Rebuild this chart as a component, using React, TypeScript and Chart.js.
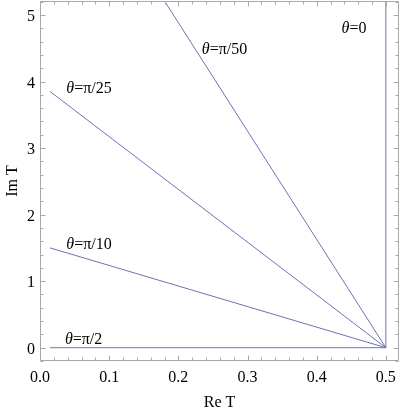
import React, { useEffect, useRef } from "react";
import { Chart, registerables } from "chart.js";
Chart.register(...registerables);

// Series (Re T, Im T) endpoints
const seriesNames = ["θ=0", "θ=π/50", "θ=π/25", "θ=π/10", "θ=π/2"];
const seriesReT = [
  [0.5, 0.5],
  [0.5, 0.18],
  [0.5, 0.0145],
  [0.5, 0.0145],
  [0.5, 0.0145],
];
const seriesImT = [
  [0, 5.21],
  [0, 5.21],
  [0, 3.85],
  [0, 1.5],
  [0, 0],
];

// Annotation labels (data coordinates of left/baseline)
const labelGreek = ["θ", "θ", "θ", "θ", "θ"];
const labelRest = ["=0", "=π/50", "=π/25", "=π/10", "=π/2"];
const labelReT = [0.436, 0.234, 0.038, 0.038, 0.036];
const labelImT = [4.73, 4.41, 3.83, 1.48, 0.056];

// Tick labels
const xTickValues = [0, 0.1, 0.2, 0.3, 0.4, 0.5];
const yTickValues = [0, 1, 2, 3, 4, 5];
const xMinorStep = 0.02;
const yMinorStep = 0.2;

const LINE = "#7070b8";
const FRAME = "#a8a8a8";
const FONT = '"Liberation Serif", "Times New Roman", Times, serif';

const framePlugin = {
  id: "framePlugin",
  afterDatasetsDraw(chart: any) {
    const ctx = chart.ctx as CanvasRenderingContext2D;
    const { left, right, top, bottom } = chart.chartArea;
    const xs = chart.scales.x;
    const ys = chart.scales.y;
    ctx.save();
    ctx.strokeStyle = FRAME;
    ctx.lineWidth = 1;
    const L = Math.round(left) + 0.5;
    const R = Math.round(right) - 0.5;
    const T = Math.round(top) + 0.5;
    const B = Math.round(bottom) - 0.5;
    ctx.beginPath();
    ctx.rect(L, T, R - L, B - T);
    ctx.stroke();

    ctx.beginPath();
    for (let i = 0; ; i++) {
      const v = i * xMinorStep;
      if (v > xs.max + 1e-9) break;
      if (v < xs.min - 1e-9) continue;
      const px = Math.round(xs.getPixelForValue(v)) + 0.5;
      const len = i % 5 === 0 ? 5 : 3;
      ctx.moveTo(px, B);
      ctx.lineTo(px, B - len);
      ctx.moveTo(px, T);
      ctx.lineTo(px, T + len);
    }
    for (let i = -5; ; i++) {
      const v = i * yMinorStep;
      if (v > ys.max + 1e-9) break;
      if (v < ys.min - 1e-9) continue;
      const py = Math.round(ys.getPixelForValue(v)) + 0.5;
      const len = ((i % 5) + 5) % 5 === 0 ? 5 : 3;
      ctx.moveTo(L, py);
      ctx.lineTo(L + len, py);
      ctx.moveTo(R, py);
      ctx.lineTo(R - len, py);
    }
    ctx.stroke();

    ctx.fillStyle = "#000";
    ctx.font = `16px ${FONT}`;
    ctx.textAlign = "center";
    ctx.textBaseline = "alphabetic";
    xTickValues.forEach((v) => {
      ctx.fillText(v.toFixed(1), xs.getPixelForValue(v), 382);
    });
    ctx.textAlign = "right";
    yTickValues.forEach((v) => {
      ctx.fillText(String(v), 35, ys.getPixelForValue(v) + 6);
    });

    ctx.textAlign = "center";
    ctx.fillText("Re T", (left + right) / 2, 407);
    ctx.save();
    ctx.translate(17, (top + bottom) / 2);
    ctx.rotate(-Math.PI / 2);
    ctx.fillText("Im T", 0, 0);
    ctx.restore();

    ctx.textAlign = "left";
    labelRest.forEach((rest, i) => {
      const px = xs.getPixelForValue(labelReT[i]);
      const py = ys.getPixelForValue(labelImT[i]);
      ctx.font = `italic 16px ${FONT}`;
      ctx.fillText(labelGreek[i], px, py);
      const w = ctx.measureText(labelGreek[i]).width;
      ctx.font = `16px ${FONT}`;
      ctx.fillText(rest, px + w, py);
    });
    ctx.restore();
  },
};

export default function App() {
  const ref = useRef<HTMLCanvasElement>(null);
  useEffect(() => {
    const datasets = seriesNames.map((name, i) => ({
      label: name,
      data: seriesReT[i].map((x, j) => ({ x, y: seriesImT[i][j] })),
      borderColor: LINE,
      backgroundColor: LINE,
      borderWidth: 1,
      pointRadius: 0,
      showLine: true,
      fill: false,
    }));
    const chart = new Chart(ref.current!, {
      type: "scatter",
      data: { datasets },
      options: {
        animation: false,
        responsive: false,
        layout: { padding: { left: 40, right: 1, top: 1, bottom: 52 } },
        plugins: { legend: { display: false }, tooltip: { enabled: false } },
        scales: {
          x: { type: "linear", min: 0, max: 0.519, display: false },
          y: { type: "linear", min: -0.2, max: 5.21, display: false },
        },
      },
      plugins: [framePlugin],
    } as any);
    let alive = true;
    if ((document as any).fonts) {
      Promise.all([
        (document as any).fonts.load('16px "Liberation Serif"'),
        (document as any).fonts.load('italic 16px "Liberation Serif"'),
      ]).then(() => {
        if (alive) chart.update();
      }).catch(() => {});
    }
    return () => {
      alive = false;
      chart.destroy();
    };
  }, []);
  return (
    <div style={{ position: "absolute", left: 0, top: 0, width: 400, height: 413, background: "#fff" }}>
      <canvas ref={ref} width={400} height={413} style={{ display: "block" }} />
    </div>
  );
}
